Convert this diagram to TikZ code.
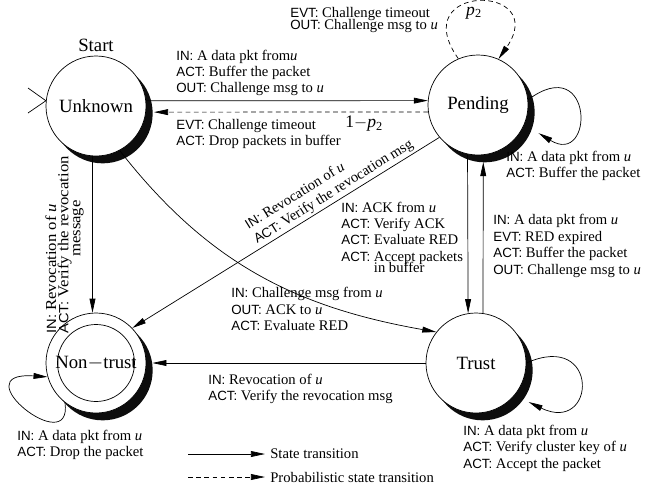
\documentclass[tikz,border=0pt]{standalone}
\usepackage{fontspec}
\usepackage{graphicx}
\setmainfont{Liberation Serif}
\setsansfont{Liberation Sans}
\usetikzlibrary{arrows.meta,shadows}
\newcommand{\kw}[1]{{\fontsize{11.4}{14}\selectfont\sffamily #1:}}
\newcommand{\wide}[1]{\scalebox{1.1}[1]{#1}}
\setlength{\lineskiplimit}{-100pt}

\begin{document}
\begin{tikzpicture}[x=0.03cm, y=0.03cm, line width=0.6pt, >={Triangle[length=12pt,width=5pt]}]
        \tikzstyle{state}=[circle, draw, fill=white, minimum size=3cm, inner sep=0pt, font=\fontsize{16}{18}\selectfont, drop shadow={shadow xshift=0.2cm, shadow yshift=-0.22cm, fill=black!95, opacity=1}]
        \tikzstyle{lbl}=[anchor=west, align=left, inner sep=0pt, font=\fontsize{12.5}{14}\selectfont]
        \tikzstyle{prob}=[dash pattern=on 4pt off 3pt]
        \useasboundingbox (0,0) rectangle (661,-490);
        \node [state] (unk) at (96,-106) {Unknown};
        \node [state] (pend) at (478,-105) {Pending};
        \node [state] (trust) at (476,-363) {Trust};
        \node [state] (nt) at (96,-363) {Non$-$trust};
        \draw (nt.center) circle (1.155cm);
        \node [font=\fontsize{16}{18}\selectfont] (start) at (96,-45) {Start};
        \draw (28,-88) -- (unk.174) -- (28,-113);
        \draw [->] (unk.6) -- (pend.175);
        \draw [->, prob] (pend.188) -- ([shift={(8,0)}]unk.-7);
        \node [lbl] (l1) at (176,-73) {\kw{IN} A data pkt from\textit{u}\\ \kw{ACT} Buffer the packet\\ \kw{OUT} Challenge msg to \textit{u}};
        \node [lbl] (l2) at (176,-134) {\kw{EVT} Challenge timeout\\ \kw{ACT} Drop packets in buffer};
        \node [lbl, font=\fontsize{15}{18}\selectfont] (l3) at (345,-124) {1$-$\textit{p}\textsubscript{2}};
        \draw [->, prob] (pend.113) .. controls +(-54,76) and +(53,76) .. (pend.66);
        \node [font=\fontsize{15}{18}\selectfont] (p2) at (474,-13) {\textit{p}\textsubscript{2}};
        \node [lbl] (l4) at (290,-20) {\kw{EVT} Challenge timeout\\[-4pt] \kw{OUT} Challenge msg to \textit{u}};
        \draw [->] (pend.6) .. controls +(66,49) and +(56,-34) .. ([shift={(17,-3)}]pend.-30);
        \node [lbl] (l5) at (506,-166) {\kw{IN} A data pkt from \textit{u}\\ \kw{ACT} Buffer the packet};
        \draw [->] (unk.-94) -- (nt.94);
        \node [lbl, rotate=90, anchor=north west, font=\fontsize{13}{10.4}\selectfont] (l6) at (45,-334) {\wide{\kw{IN} Revocation of \textit{u}}\\ \wide{\kw{ACT} Verify the revocation}\\ \hspace*{2.3cm}\wide{message}};
        \draw [->] (pend.220) -- (nt.44);
        \node [lbl, rotate=32, anchor=south west] (l7) at (259,-247) {\kw{IN} Revocation of \textit{u}\\ \kw{ACT} Verify the revocation msg};
        \draw [->] (unk.-62) to [out=-52, in=170] (trust.142);
        \node [lbl] (l8) at (231,-309) {\kw{IN} Challenge msg from \textit{u}\\ \kw{OUT} ACK to \textit{u}\\ \kw{ACT} Evaluate RED};
        \draw [->] (pend.258) -- (trust.99);
        \draw [->] (trust.82) -- ([shift={(0,-7)}]pend.-84);
        \node [lbl] (l9) at (341,-237) {\kw{IN} ACK from \textit{u}\\ \kw{ACT} Verify ACK\\ \kw{ACT} Evaluate RED\\ \kw{ACT} Accept packets\\[-4.7pt] \phantom{\kw{ACT} }in buffer};
        \node [lbl] (l10) at (493,-246) {\kw{IN} A data pkt from \textit{u}\\ \kw{EVT} RED expired\\ \kw{ACT} Buffer the packet\\ \kw{OUT} Challenge msg to \textit{u}};
        \draw [->] (trust.180) -- ([shift={(6,0)}]nt.0);
        \node [lbl] (l11) at (208,-389) {\kw{IN} Revocation of \textit{u}\\ \kw{ACT} Verify the revocation msg};
        \draw [->] (trust.east) .. controls +(74,33) and +(68,-33) .. ([shift={(13,-8)}]trust.-38);
        \node [lbl] (l12) at (463,-448) {\kw{IN} A data pkt from \textit{u}\\ \kw{ACT} Verify cluster key of \textit{u}\\ \kw{ACT} Accept the packet};
        \draw [->] (nt.232) .. controls +(8,-58) and +(-87,6) .. (nt.196);
        \node [lbl] (l13) at (17,-445) {\kw{IN} A data pkt from \textit{u}\\ \kw{ACT} Drop the packet};
        \coordinate (s1) at (188,-454);
        \coordinate (s2) at (188,-477);
        \node [lbl, inner xsep=0.15cm] (st) at (265,-454) {State transition};
        \node [lbl, inner xsep=0.15cm] (pst) at (265,-477) {Probabilistic state transition};
        \draw [->] (s1) -- (st.west);
        \draw [->, prob] (s2) -- (pst.west);
    \end{tikzpicture}
\end{document}
